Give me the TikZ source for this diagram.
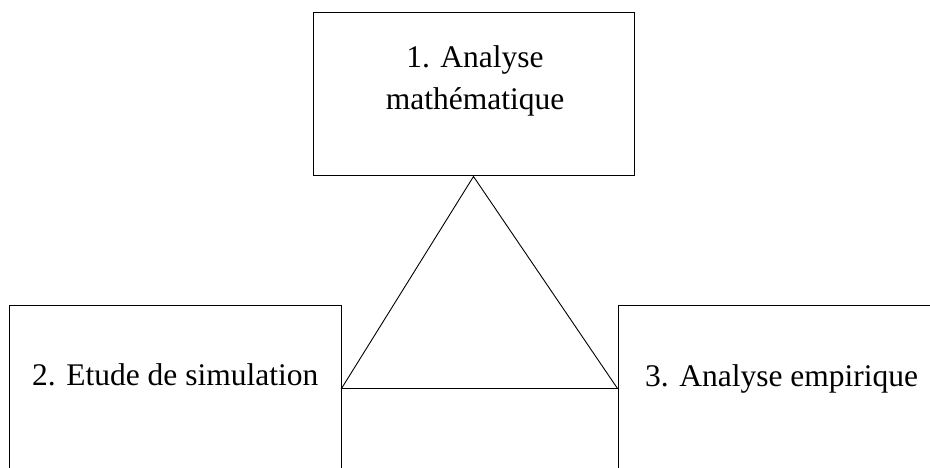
\documentclass[tikz,border=0pt]{standalone}
\usepackage{fontspec}
\setmainfont{Liberation Serif}
\begin{document}
\begin{tikzpicture}[x=1pt,y=-1pt,
  box/.style={draw=black,line width=1pt,inner sep=0pt},
  lbl/.style={inner sep=0pt,font=\fontsize{31.5}{42}\selectfont},
  tri/.style={draw=black,line width=0.9pt}]
\useasboundingbox (0,0) rectangle (930,468);
\clip (0,0) rectangle (930,468);
\node[box,minimum width=321pt,minimum height=163pt] (b1) at (473.5,94.5) {};
\node[box,minimum width=332pt,minimum height=240pt] (b2) at (175,425) {};
\node[box,minimum width=340pt,minimum height=240pt] (b3) at (788,425) {};
\node[lbl,anchor=base] (t1a) at (475,68) {1. Analyse};
\node[lbl,anchor=base] (t1b) at (475,110) {mathématique};
\node[lbl,anchor=base west] (t2) at (32,385) {2. Etude de simulation};
\node[lbl,anchor=base west] (t3) at (645,386) {3. Analyse empirique};
\coordinate (ll) at (b2.east |- 0,388.5);
\coordinate (rr) at (b3.west |- 0,388.5);
\draw[tri] (b1.south) -- (ll) -- (rr) -- cycle;
\end{tikzpicture}
\end{document}
